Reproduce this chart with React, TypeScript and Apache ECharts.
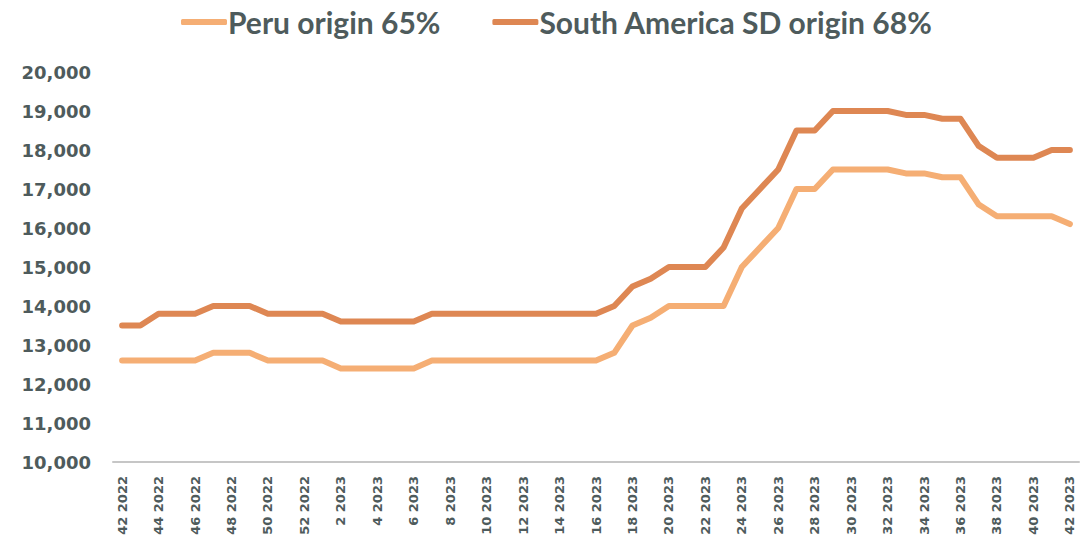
import React, { useEffect, useRef } from "react";
import * as echarts from "echarts";

// Week labels: week 42 of 2022 through week 42 of 2023
const weeks2022 = [42, 43, 44, 45, 46, 47, 48, 49, 50, 51, 52];
const weeks2023 = [
  1, 2, 3, 4, 5, 6, 7, 8, 9, 10, 11, 12, 13, 14, 15, 16, 17, 18, 19, 20, 21,
  22, 23, 24, 25, 26, 27, 28, 29, 30, 31, 32, 33, 34, 35, 36, 37, 38, 39, 40,
  41, 42,
];
const categories = [
  ...weeks2022.map((w) => `${w} 2022`),
  ...weeks2023.map((w) => `${w} 2023`),
];

const peruValues = [
  12600, 12600, 12600, 12600, 12600, 12800, 12800, 12800, 12600, 12600, 12600,
  12600, 12400, 12400, 12400, 12400, 12400, 12600, 12600, 12600, 12600, 12600,
  12600, 12600, 12600, 12600, 12600, 12800, 13500, 13700, 14000, 14000, 14000,
  14000, 15000, 15500, 16000, 17000, 17000, 17500, 17500, 17500, 17500, 17400,
  17400, 17300, 17300, 16600, 16300, 16300, 16300, 16300, 16100,
];

const southAmericaValues = [
  13500, 13500, 13800, 13800, 13800, 14000, 14000, 14000, 13800, 13800, 13800,
  13800, 13600, 13600, 13600, 13600, 13600, 13800, 13800, 13800, 13800, 13800,
  13800, 13800, 13800, 13800, 13800, 14000, 14500, 14700, 15000, 15000, 15000,
  15500, 16500, 17000, 17500, 18500, 18500, 19000, 19000, 19000, 19000, 18900,
  18900, 18800, 18800, 18100, 17800, 17800, 17800, 18000, 18000,
];

const seriesNames = ["Peru origin 65%", "South America SD origin 68%"];
const seriesColors = ["#F5AE74", "#DE8753"];

const textColor = "#4E5B5C";
const legendFont = "Lato, 'Open Sans', sans-serif";
const axisFont = "'DejaVu Sans', Verdana, sans-serif";

export default function App() {
  const ref = useRef<HTMLDivElement>(null);

  useEffect(() => {
    if (!ref.current) return;
    const chart = echarts.init(ref.current, null, { renderer: "svg" });
    chart.setOption({
      animation: false,
      backgroundColor: "#FFFFFF",
      legend: {
        left: 176,
        top: 2,
        icon: "roundRect",
        itemWidth: 46,
        itemHeight: 6,
        itemGap: 52,
        textStyle: {
          color: textColor,
          fontSize: 30,
          fontWeight: "bold",
          fontFamily: legendFont,
          padding: [0, 0, 0, -4],
        },
        data: seriesNames,
      },
      grid: {
        left: 113,
        right: 5,
        top: 72,
        bottom: 80,
        containLabel: false,
      },
      xAxis: {
        type: "category",
        data: categories,
        boundaryGap: true,
        axisLine: { show: true, lineStyle: { color: "#C6C6C6", width: 2 } },
        axisTick: { show: false },
        axisLabel: {
          interval: 1,
          rotate: 90,
          margin: 14,
          color: textColor,
          fontSize: 13,
          fontWeight: "bold",
          fontFamily: axisFont,
        },
        splitLine: { show: false },
      },
      yAxis: {
        type: "value",
        min: 10000,
        max: 20000,
        interval: 1000,
        axisLine: { show: false },
        axisTick: { show: false },
        splitLine: { show: false },
        axisLabel: {
          margin: 22,
          color: textColor,
          fontSize: 18,
          fontWeight: "bold",
          fontFamily: axisFont,
          formatter: (v: number) => v.toLocaleString("en-US"),
        },
      },
      series: [
        {
          name: seriesNames[0],
          type: "line",
          data: peruValues,
          symbol: "none",
          color: seriesColors[0],
          lineStyle: { width: 6, color: seriesColors[0], cap: "round", join: "round" },
        },
        {
          name: seriesNames[1],
          type: "line",
          data: southAmericaValues,
          symbol: "none",
          color: seriesColors[1],
          lineStyle: { width: 6, color: seriesColors[1], cap: "round", join: "round" },
        },
      ],
    });
    return () => chart.dispose();
  }, []);

  return (
    <div
      ref={ref}
      style={{ position: "fixed", left: 0, top: 0, width: 1084, height: 542 }}
    />
  );
}
